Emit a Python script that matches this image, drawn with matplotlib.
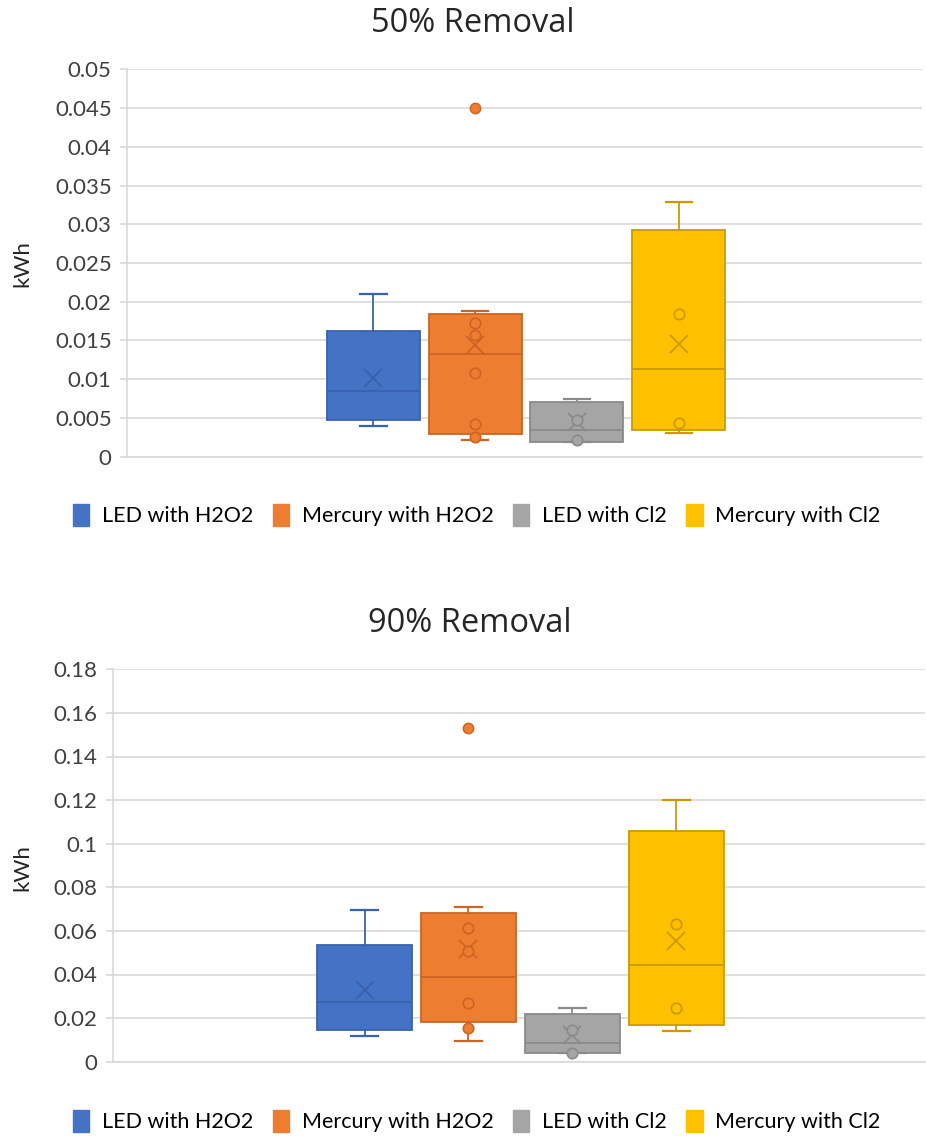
import matplotlib
matplotlib.use("Agg")
import matplotlib.pyplot as plt
from matplotlib.patches import Patch

# Series
series_names = ["LED with H2O2", "Mercury with H2O2", "LED with Cl2", "Mercury with Cl2"]
fill_colors = ["#4472C4", "#ED7D31", "#A5A5A5", "#FFC000"]
edge_colors = ["#3A62AC", "#CC6422", "#8A8A8A", "#CC9A00"]

# 50% removal (kWh)
r50_whislo = [0.0040, 0.0022, 0.0019, 0.0031]
r50_q1 = [0.0047, 0.0029, 0.0019, 0.0035]
r50_med = [0.0085, 0.0133, 0.0035, 0.0113]
r50_q3 = [0.0162, 0.0184, 0.0070, 0.0293]
r50_whishi = [0.0210, 0.0188, 0.0075, 0.0329]
r50_mean = [0.0101, 0.0144, 0.0045, 0.0146]
r50_inner = [[], [0.0025, 0.0042, 0.0108, 0.0157, 0.0172], [0.0022, 0.0047], [0.0043, 0.0184]]
r50_outliers = [[], [0.045], [], []]
r50_ticks = ["0", "0.005", "0.01", "0.015", "0.02", "0.025", "0.03", "0.035", "0.04", "0.045", "0.05"]

# 90% removal (kWh)
r90_whislo = [0.0118, 0.0095, 0.0038, 0.0142]
r90_q1 = [0.0145, 0.0184, 0.0038, 0.0168]
r90_med = [0.0275, 0.0390, 0.0087, 0.0444]
r90_q3 = [0.0535, 0.0681, 0.0217, 0.1058]
r90_whishi = [0.0696, 0.0711, 0.0245, 0.1200]
r90_mean = [0.0329, 0.0516, 0.0122, 0.0554]
r90_inner = [[], [0.0153, 0.0268, 0.0510, 0.0612], [0.0041, 0.0145], [0.0248, 0.0630]]
r90_outliers = [[], [0.1532], [], []]
r90_ticks = ["0", "0.02", "0.04", "0.06", "0.08", "0.1", "0.12", "0.14", "0.16", "0.18"]

TICK_FONT = "Lato"
TITLE_FONT = "Open Sans"
GRID = "#D9D9D9"
TEXT = "#404040"

positions = [-0.190, -0.062, 0.066, 0.194]
box_width = 0.117
cap_width = 0.033


def draw_panel(ax, whislo, q1, med, q3, whishi, mean, inner, outliers, tick_labels):
    tick_values = [float(t) for t in tick_labels]
    for i in range(len(series_names)):
        stats = [dict(whislo=whislo[i], q1=q1[i], med=med[i], q3=q3[i],
                      whishi=whishi[i], mean=mean[i], fliers=outliers[i])]
        ec = edge_colors[i]
        ax.bxp(stats, positions=[positions[i]], widths=box_width,
               capwidths=cap_width, patch_artist=True, showmeans=True,
               showfliers=True, manage_ticks=False,
               boxprops=dict(facecolor=fill_colors[i], edgecolor=ec, linewidth=1.3),
               medianprops=dict(color=ec, linewidth=1.3),
               whiskerprops=dict(color=ec, linewidth=1.3),
               capprops=dict(color=ec, linewidth=1.6),
               meanprops=dict(marker="x", markeredgecolor=ec, markersize=13,
                              markeredgewidth=1.3, linestyle="none"),
               flierprops=dict(marker="o", markerfacecolor=fill_colors[i],
                               markeredgecolor=ec, markersize=7.5, linestyle="none"),
               zorder=3)
        if inner[i]:
            ax.plot([positions[i]] * len(inner[i]), inner[i], linestyle="none",
                    marker="o", markersize=7.5, markerfacecolor=fill_colors[i],
                    markeredgecolor=ec, markeredgewidth=1.2, zorder=4)
    ax.set_xlim(-0.5, 0.5)
    ax.set_ylim(tick_values[0], tick_values[-1])
    ax.set_yticks(tick_values)
    ax.set_yticklabels(tick_labels, fontfamily=TICK_FONT, fontsize=16, color=TEXT)
    ax.set_xticks([])
    ax.yaxis.grid(True, color=GRID, linewidth=1.2, zorder=0)
    ax.set_axisbelow(True)
    for side in ("top", "right"):
        ax.spines[side].set_visible(False)
    ax.spines["left"].set_color(GRID)
    ax.spines["bottom"].set_color(GRID)
    ax.spines["left"].set_linewidth(1.2)
    ax.spines["bottom"].set_linewidth(1.2)
    ax.tick_params(axis="y", length=5, color=GRID, width=1.2, pad=6)


fig = plt.figure(figsize=(9.26, 11.36), dpi=100)
W, H = 926, 1136

ax1 = fig.add_axes([127 / W, (H - 456.7) / H, 795 / W, 387.4 / H])
draw_panel(ax1, r50_whislo, r50_q1, r50_med, r50_q3, r50_whishi, r50_mean,
           r50_inner, r50_outliers, r50_ticks)

ax2 = fig.add_axes([112.7 / W, (H - 1061.7) / H, 812.3 / W, 392.4 / H])
draw_panel(ax2, r90_whislo, r90_q1, r90_med, r90_q3, r90_whishi, r90_mean,
           r90_inner, r90_outliers, r90_ticks)

fig.text(473 / W, 1 - 23 / H, "50% Removal", ha="center", va="center",
         fontfamily=TITLE_FONT, fontsize=23.5, color="#262626")
fig.text(470 / W, 1 - 623 / H, "90% Removal", ha="center", va="center",
         fontfamily=TITLE_FONT, fontsize=23.5, color="#262626")

fig.text(22 / W, 1 - 264 / H, "kWh", ha="center", va="center", rotation=90,
         fontfamily=TICK_FONT, fontsize=16, color="#262626")
fig.text(22 / W, 1 - 868 / H, "kWh", ha="center", va="center", rotation=90,
         fontfamily=TICK_FONT, fontsize=16, color="#262626")

handles = [Patch(facecolor=c, edgecolor=c) for c in fill_colors]
for y in (515, 1121):
    fig.legend(handles, series_names, loc="center", bbox_to_anchor=(477 / W, 1 - y / H),
               ncol=4, frameon=False, handlelength=0.75, handleheight=1.2,
               handletextpad=0.6, columnspacing=0.9,
               prop=dict(family=TICK_FONT, size=15.5))

fig.savefig("out.png", dpi=100, facecolor="white")
